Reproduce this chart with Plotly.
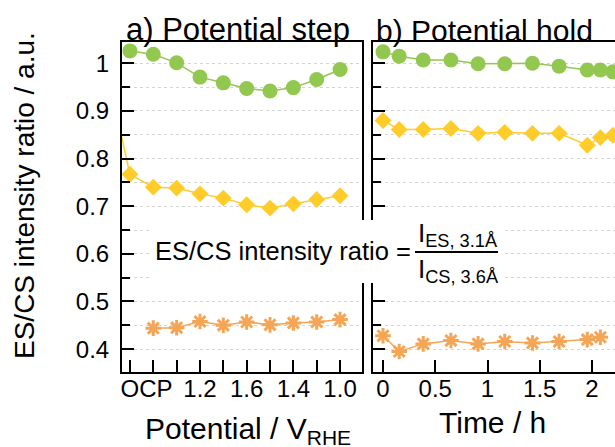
import plotly.graph_objects as go

# ---------------- data ----------------
# Panel a: potential step (category positions along the step sequence)
step_index = [0, 1, 2, 3, 4, 5, 6, 7, 8, 9]
step_label_pos = [1, 3, 5, 7, 9]
step_labels = ["OCP\u00a0\u00a0", "1.2", "1.6", "1.4", "1.0"]

a_green = [1.026, 1.019, 1.001, 0.971, 0.959, 0.947, 0.942, 0.949, 0.966, 0.987]
a_yellow_index = [-1, 0, 1, 2, 3, 4, 5, 6, 7, 8, 9]
a_yellow = [0.99, 0.767, 0.740, 0.738, 0.726, 0.717, 0.703, 0.696, 0.705, 0.714, 0.722]
a_orange_index = [1, 2, 3, 4, 5, 6, 7, 8, 9]
a_orange = [0.444, 0.445, 0.458, 0.450, 0.457, 0.451, 0.455, 0.457, 0.462]

# Panel b: potential hold (time in h)
hold_time = [0.0, 0.155, 0.385, 0.65, 0.91, 1.165, 1.43, 1.685, 1.955, 2.08, 2.2]
b_green = [1.024, 1.015, 1.007, 1.007, 0.999, 0.999, 1.000, 0.994, 0.986, 0.986, 0.982]
b_yellow = [0.880, 0.861, 0.861, 0.863, 0.853, 0.855, 0.853, 0.853, 0.828, 0.844, 0.849]
b_orange = [0.428, 0.395, 0.411, 0.418, 0.411, 0.416, 0.413, 0.416, 0.420, 0.425]

GREEN = "#92C850"
YELLOW = "#FFCC29"
ORANGE = "#F4A656"
FONT = "Liberation Sans, Arial, sans-serif"

W, H = 615, 447
L, R, T, B = 122, 0, 42, 75
PW = W - L - R
PH = H - T - B


def px2x(px):
    return (px - L) / PW


def py2y(py):
    return (H - B - py) / PH


fig = go.Figure()

def add_series(x, y, color, symbol, size, xa, ya, line_marker=False):
    if line_marker:
        marker = dict(symbol=symbol, size=size, color=color,
                      line=dict(color=color, width=3))
    else:
        marker = dict(symbol=symbol, size=size, color=color, line=dict(width=0))
    fig.add_trace(go.Scatter(x=x, y=y, mode="lines+markers", xaxis=xa, yaxis=ya,
                             line=dict(color=color, width=1.5), marker=marker,
                             showlegend=False))

add_series(step_index, a_green, GREEN, "circle", 15, "x", "y")
add_series(a_yellow_index, a_yellow, YELLOW, "diamond", 13, "x", "y")
add_series(a_orange_index, a_orange, ORANGE, "asterisk-open", 13, "x", "y", True)

add_series(hold_time, b_green, GREEN, "circle", 15, "x2", "y2")
add_series(hold_time, b_yellow, YELLOW, "diamond", 13, "x2", "y2")
add_series(hold_time[:len(b_orange)], b_orange, ORANGE, "asterisk-open", 13, "x2", "y2", True)

ticktext = []
for i in step_index:
    ticktext.append(step_labels[step_label_pos.index(i)] if i in step_label_pos else "")

axis_common = dict(showline=True, linewidth=2, linecolor="black", ticks="inside",
                   tickwidth=2, tickcolor="black", ticklen=12, zeroline=False,
                   tickangle=0, automargin=False,
                   tickfont=dict(family=FONT, size=24, color="black"))
grid = dict(showgrid=True, gridcolor="#d4d4d4", griddash="dot", gridwidth=1)
yrange = [0.352, 1.0447]

fig.update_layout(
    width=W, height=H,
    margin=dict(l=L, r=R, t=T, b=B, pad=0, autoexpand=False),
    plot_bgcolor="white", paper_bgcolor="white",
    font=dict(family=FONT, color="black"),
    xaxis=dict(domain=[0, 240 / PW], range=[-0.34, 9.94], tickmode="array",
               tickvals=step_index, ticktext=ticktext, mirror=True, showgrid=False,
               ticklabelstandoff=-6, anchor="y", **axis_common),
    xaxis2=dict(domain=[251 / PW, 1], range=[-0.0957, 2.22], dtick=0.5, tick0=0,
                mirror=True, showgrid=False, ticklabelstandoff=-6, anchor="y2",
                **axis_common),
    yaxis=dict(range=yrange, dtick=0.1, tick0=0, mirror=True, anchor="x",
               ticklabelstandoff=6,
               minor=dict(dtick=0.05, ticks="inside", ticklen=8, tickwidth=2,
                          tickcolor="black", **grid),
               **grid, **axis_common),
    yaxis2=dict(range=yrange, dtick=0.1, tick0=0, mirror=False, anchor="x2",
                showticklabels=False,
                minor=dict(dtick=0.05, ticks="inside", ticklen=8, tickwidth=2,
                           tickcolor="black", **grid),
                **grid, **axis_common),
)

# white box behind the formula
fig.add_shape(type="rect", xref="paper", yref="paper", layer="above",
              x0=px2x(152), x1=px2x(503), y0=py2y(283), y1=py2y(220),
              fillcolor="white", line=dict(width=0))
# fraction bar
fig.add_shape(type="line", xref="paper", yref="paper", layer="above",
              x0=px2x(415), x1=px2x(498), y0=py2y(252), y1=py2y(252),
              line=dict(color="black", width=2))

def ann(text, x, y, size, xanchor="center", yanchor="middle", angle=0):
    fig.add_annotation(text=text, xref="paper", yref="paper", x=px2x(x), y=py2y(y),
                       xanchor=xanchor, yanchor=yanchor, textangle=angle,
                       showarrow=False, font=dict(family=FONT, size=size, color="black"))

ann("a) Potential step", 124, 49, 31, xanchor="left", yanchor="bottom")
ann("b) Potential hold", 374, 49, 30, xanchor="left", yanchor="bottom")
ann("ES/CS intensity ratio / a.u.", 24, 196, 28, angle=-90)
ann("Potential / V<sub>RHE</sub>", 248, 430, 30)
ann("Time / h", 492, 422, 30)
ann("ES/CS intensity ratio =", 413, 251, 25.5, xanchor="right")
ann("I<sub>ES, 3.1Å</sub>", 416, 253, 26, xanchor="left", yanchor="bottom")
ann("I<sub>CS, 3.6Å</sub>", 416, 252, 26, xanchor="left", yanchor="top")

fig.write_html("out.html")
